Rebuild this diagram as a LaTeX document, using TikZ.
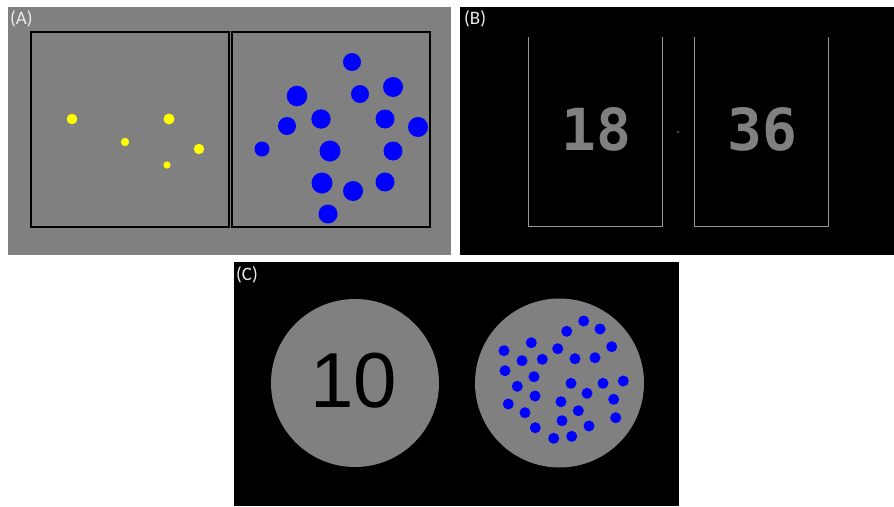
\documentclass[tikz,border=0pt]{standalone}
\usepackage{fontspec}
\newfontfamily\labfont{Carlito}
\newfontfamily\monofont{DejaVu Sans Mono}
\newfontfamily\arialfont{Liberation Sans}
\definecolor{panelgray}{RGB}{128,128,128}
\definecolor{labwhite}{RGB}{235,235,235}
\definecolor{linegray}{RGB}{150,150,150}
\tikzset{
  lab/.style={font=\labfont\fontsize{19}{19}\selectfont, text=labwhite, inner sep=0pt, anchor=north west},
  ydot/.style={fill={rgb,255:red,255;green,255;blue,0}},
  bdot/.style={fill={rgb,255:red,0;green,0;blue,255}},
  abox/.style={draw=black, line width=1.5pt},
  bline/.style={draw=linegray, line width=0.9pt},
  bnum/.style={inner sep=0pt, text=panelgray, font=\monofont\bfseries\fontsize{58}{58}\selectfont},
}
\begin{document}
\begin{tikzpicture}[x=1pt,y=-1pt]
\useasboundingbox (0,0) rectangle (894,506);
\fill[white] (0,0) rectangle (894,506);
% Panel A
\fill[panelgray] (8,7) rectangle (451,255);
\draw[abox] (31,32) rectangle (229,227);
\draw[abox] (232,32) rectangle (430,227);
\node[lab] (la) at (10,10) {(A)};
\foreach \x/\y/\r in {72/119/5.3, 169/119/5.5, 125/142/4.2, 199/149/5.2, 167/165/3.6}
  \fill[ydot] (\x,\y) circle[radius=\r pt];
\foreach \x/\y/\r in {352/62/9, 297/96/10.3, 360/94/9, 393/87/10, 287/126/9, 321/119/9.7,
  385/119/9.5, 418/127/10, 262/149/7.5, 330/151/10.5, 393/151/9.5, 322/183/10.5,
  353/191/10, 385/182/9.5, 328/214/9.5}
  \fill[bdot] (\x,\y) circle[radius=\r pt];
% Panel B
\fill[black] (460,7) rectangle (894,255);
\node[lab] (lb) at (464,10) {(B)};
\draw[bline] (528,37) -- (528,226) -- (662,226) -- (662,37);
\draw[bline] (694,37) -- (694,226) -- (828,226) -- (828,37);
\node[bnum] (n18) at (596,129) {18};
\node[bnum] (n36) at (762,129) {36};
\fill[linegray] (678,132) circle[radius=0.9pt];
% Panel C
\fill[black] (234,262) rectangle (679,506);
\node[lab] (lc) at (236,266) {(C)};
\fill[panelgray] (355,383) circle[radius=84pt];
\fill[panelgray] (559.5,383) circle[radius=84.5pt];
\node[inner sep=0pt, text=black, font=\arialfont\fontsize{78}{78}\selectfont] (n10) at (354,381) {10};
\foreach \x/\y in {583.7/321, 600/329, 566.7/331.3, 611.7/346.7, 531.3/342.7, 504/350.7,
  557.7/348.7, 522/360.7, 542.3/359.3, 575/358.7, 595/357.7, 505/370.7, 534/376.7,
  517.3/386.3, 571/383.3, 603/383.3, 623.3/381, 535/396, 587/393.3, 508.3/404,
  561/401.7, 613.7/399.3, 525/412.7, 578.3/410.7, 562/420.7, 615.7/417.7,
  535.3/427.7, 589/426, 553.7/438.3, 571.7/436.3}
  \fill[bdot] (\x,\y) circle[radius=5.5pt];
\end{tikzpicture}
\end{document}
